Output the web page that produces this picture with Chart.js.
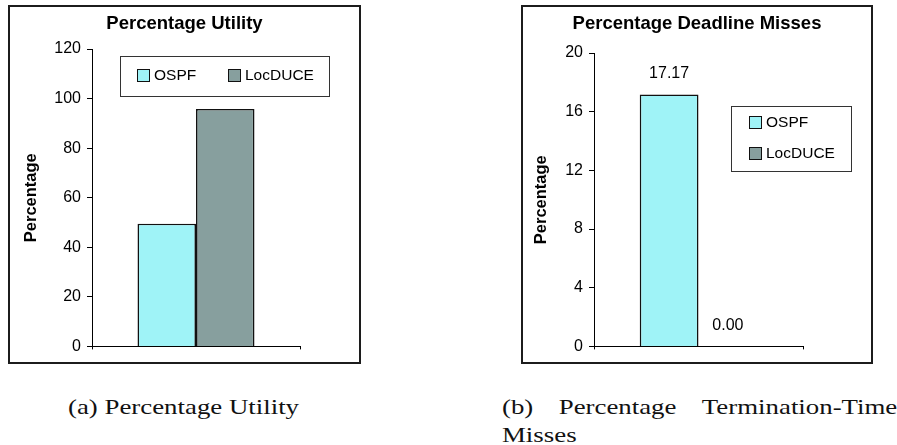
<!DOCTYPE html>
<html>
<head>
<meta charset="utf-8">
<script src="https://cdn.jsdelivr.net/npm/chart.js@4.4.0/dist/chart.umd.min.js"></script>
<style>
  html, body { margin: 0; padding: 0; background: #fff; width: 897px; height: 445px; overflow: hidden; position: relative; }
  .frame { position: absolute; border: 2px solid #1c1c1c; box-sizing: border-box; background: #fff; }
  .frame canvas { display: block; }
  .cap { position: absolute; font-family: 'Liberation Serif', 'Times New Roman', serif; font-size: 22px; line-height: 22px;
         color: #111; white-space: nowrap; transform-origin: 0 0; transform: scaleX(1.22); }
</style>
</head>
<body>
<div class="frame" style="left:8px;top:5px;width:353px;height:359px"><canvas id="utility" width="349" height="355"></canvas></div>
<div class="frame" style="left:521px;top:5px;width:352px;height:359px"><canvas id="misses" width="348" height="355"></canvas></div>
<div class="cap" style="left:68px;top:396px">(a) Percentage Utility</div>
<div class="cap" style="left:502px;top:396px;width:324px;display:flex;justify-content:space-between"><span>(b)</span><span>Percentage</span><span>Termination-Time</span></div>
<div class="cap" style="left:502px;top:424px">Misses</div>

<script>
// Series shared by both panels
const seriesNames = ['OSPF', 'LocDUCE'];
const seriesColors = ['#9ff3f7', '#879f9e'];

// (a) Percentage Utility
const utilityCategories = [''];
const utilityOSPF = [49.5];
const utilityLocDUCE = [95.8];
const utilityTicks = [0, 20, 40, 60, 80, 100, 120];

// (b) Percentage deadline misses
const missesCategories = [''];
const missesOSPF = [17.17];
const missesLocDUCE = [0.00];
const missesTicks = [0, 4, 8, 12, 16, 20];

Chart.defaults.font.family = "'Liberation Sans', Arial, sans-serif";
Chart.defaults.color = '#000';

// Bold heading centred across the whole panel
const panelTitle = {
  id: 'panelTitle',
  afterDraw(chart, args, opts) {
    const ctx = chart.ctx;
    ctx.save();
    ctx.font = "bold 18.5px 'Liberation Sans', Arial, sans-serif";
    ctx.fillStyle = '#000';
    ctx.textAlign = 'center';
    ctx.textBaseline = 'middle';
    ctx.fillText(opts.text, chart.width / 2, opts.y);
    ctx.restore();
  }
};

// Boxed legend placed inside the plot
const boxLegend = {
  id: 'boxLegend',
  afterDraw(chart, args, opts) {
    const ctx = chart.ctx;
    const [bx, by, bw, bh] = opts.box;
    ctx.save();
    ctx.fillStyle = '#fff';
    ctx.fillRect(bx, by, bw, bh);
    ctx.strokeStyle = '#333';
    ctx.lineWidth = 1;
    ctx.strokeRect(bx + 0.5, by + 0.5, bw, bh);
    ctx.font = "15.5px 'Liberation Sans', Arial, sans-serif";
    ctx.textBaseline = 'middle';
    ctx.textAlign = 'left';
    chart.data.datasets.forEach((ds, i) => {
      const [sx, sy] = opts.items[i];
      ctx.fillStyle = ds.backgroundColor;
      ctx.fillRect(sx, sy, 12, 12);
      ctx.strokeStyle = '#111';
      ctx.strokeRect(sx + 0.5, sy + 0.5, 12, 12);
      ctx.fillStyle = '#000';
      ctx.fillText(ds.label, sx + 17, sy + 6.5);
    });
    ctx.restore();
  }
};

// Value printed above each bar
const valueLabels = {
  id: 'valueLabels',
  afterDatasetsDraw(chart, args, opts) {
    if (!opts.show) return;
    const ctx = chart.ctx;
    ctx.save();
    ctx.font = "16px 'Liberation Sans', Arial, sans-serif";
    ctx.fillStyle = '#000';
    ctx.textAlign = 'center';
    ctx.textBaseline = 'middle';
    chart.data.datasets.forEach((ds, i) => {
      chart.getDatasetMeta(i).data.forEach((bar, j) => {
        ctx.fillText(ds.data[j].toFixed(2), bar.x, bar.y - 21);
      });
    });
    ctx.restore();
  }
};

function makeChart(id, title, cats, dataA, dataB, ticks, geo) {
  return new Chart(document.getElementById(id), {
    type: 'bar',
    data: {
      labels: cats,
      datasets: [
        { label: seriesNames[0], data: dataA, backgroundColor: seriesColors[0], borderColor: '#111', borderWidth: 1.6 },
        { label: seriesNames[1], data: dataB, backgroundColor: seriesColors[1], borderColor: '#111', borderWidth: 1.6 }
      ]
    },
    options: {
      responsive: false,
      animation: false,
      devicePixelRatio: 1,
      datasets: { bar: { categoryPercentage: 0.5625, barPercentage: 1 } },
      layout: { padding: { top: geo.top, right: geo.right, left: 0, bottom: 0 } },
      plugins: {
        legend: { display: false },
        title: { display: false },
        tooltip: { enabled: false },
        panelTitle: { text: title, y: 17 },
        boxLegend: { box: geo.legendBox, items: geo.legendItems },
        valueLabels: { show: geo.values }
      },
      scales: {
        x: {
          ticks: { display: false },
          grid: { drawOnChartArea: false, drawTicks: true, tickLength: 3, color: '#000' },
          border: { color: '#000', width: 1 },
          afterFit(s) { s.height = 15; }
        },
        y: {
          min: ticks[0],
          max: ticks[ticks.length - 1],
          afterBuildTicks(s) { s.ticks = ticks.map(v => ({ value: v })); },
          grid: { drawOnChartArea: false, drawTicks: true, tickLength: 5, color: '#000' },
          border: { color: '#000', width: 1 },
          ticks: { color: '#000', font: { size: 16 }, padding: 6 },
          title: { display: true, text: 'Percentage', color: '#000',
                   font: { size: 16.5, weight: 'bold' }, padding: { top: geo.yTitlePad, bottom: 0 } },
          afterFit(s) { s.width = geo.axisX; }
        }
      }
    },
    plugins: [panelTitle, boxLegend, valueLabels]
  });
}

makeChart('utility', 'Percentage Utility', utilityCategories, utilityOSPF, utilityLocDUCE, utilityTicks, {
  top: 42, right: 59, axisX: 82, yTitlePad: 12,
  legendBox: [110, 49, 209, 40], legendItems: [[127, 62], [218, 62]], values: false
});

makeChart('misses', 'Percentage Deadline Misses', missesCategories, missesOSPF, missesLocDUCE, missesTicks, {
  top: 46, right: 68, axisX: 71, yTitlePad: 9,
  legendBox: [208, 99, 120, 65], legendItems: [[226, 109], [226, 140]], values: true
});
</script>
</body>
</html>
